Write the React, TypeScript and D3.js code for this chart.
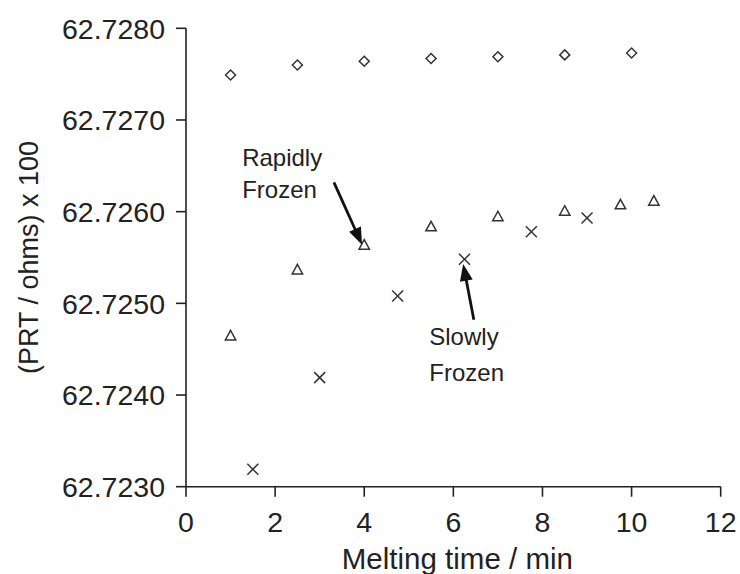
import React from "react";
import * as d3 from "d3";

const rapidX = [1, 2.5, 4, 5.5, 7, 8.5, 10];
const rapidDiamondY = [62.72749, 62.7276, 62.72764, 62.72767, 62.72769, 62.72771, 62.72773];

const triX = [1, 2.5, 4, 5.5, 7, 8.5, 9.75, 10.5];
const triY = [62.72465, 62.72537, 62.72564, 62.72584, 62.72595, 62.72601, 62.72608, 62.72612];

const crossX = [1.5, 3, 4.75, 6.25, 7.75, 9];
const crossY = [62.72319, 62.72419, 62.72508, 62.72548, 62.72578, 62.72593];

const xTicks = [0, 2, 4, 6, 8, 10, 12];
const yTicks = [62.723, 62.724, 62.725, 62.726, 62.727, 62.728];

const annotationLines = [
  { lines: ["Rapidly", "Frozen"], x: 1.26, y: [62.7265, 62.72615] },
  { lines: ["Slowly", "Frozen"], x: 5.46, y: [62.72455, 62.72415] },
];
const arrows = [
  { x1: 3.32, y1: 62.72632, x2: 3.95, y2: 62.72564 },
  { x1: 6.46, y1: 62.72482, x2: 6.22, y2: 62.72543 },
];

const W = 740;
const H = 574;
const M = { left: 186, top: 28.3, right: 19.3, bottom: 87.3 };
const FONT = "'Liberation Sans', Arial, Helvetica, sans-serif";
const INK = "#222";

export default function App() {
  const x = d3.scaleLinear().domain([0, 12]).range([M.left, W - M.right]);
  const y = d3.scaleLinear().domain([62.723, 62.728]).range([H - M.bottom, M.top]);
  const x0 = x(0), x1 = x(12), yb = y(62.723), yt = y(62.728);

  const diamonds = rapidX.map((v, i) => [x(v), y(rapidDiamondY[i])]);
  const tris = triX.map((v, i) => [x(v), y(triY[i])]);
  const crosses = crossX.map((v, i) => [x(v), y(crossY[i])]);

  const ds = 5;
  const diamondPath = (cx: number, cy: number) =>
    `M${cx},${cy - ds}L${cx + ds},${cy}L${cx},${cy + ds}L${cx - ds},${cy}Z`;
  const tw = 5.2, th = 9;
  const triPath = (cx: number, cy: number) =>
    `M${cx},${cy - th / 2 - 0.5}L${cx + tw},${cy + th / 2}L${cx - tw},${cy + th / 2}Z`;
  const cs = 5.5;

  const arrowHead = (a: { x1: number; y1: number; x2: number; y2: number }) => {
    const X1 = x(a.x1), Y1 = y(a.y1), X2 = x(a.x2), Y2 = y(a.y2);
    const ang = Math.atan2(Y2 - Y1, X2 - X1);
    const L = 17, Wd = 6.5;
    const bx = X2 - L * Math.cos(ang), by = Y2 - L * Math.sin(ang);
    const px = -Math.sin(ang) * Wd, py = Math.cos(ang) * Wd;
    return {
      line: [X1, Y1, bx + (X2 - bx) * 0.2, by + (Y2 - by) * 0.2],
      head: `M${X2},${Y2}L${bx + px},${by + py}L${bx - px},${by - py}Z`,
    };
  };

  return (
    <svg
      width={W}
      height={H}
      style={{ position: "absolute", left: 0, top: 0, background: "#fff" }}
      fontFamily={FONT}
    >
      <rect x={0} y={0} width={W} height={H} fill="#fff" />
      {/* axes */}
      <line x1={x0} y1={yb} x2={x1} y2={yb} stroke={INK} strokeWidth={1.6} />
      <line x1={x0} y1={yb} x2={x0} y2={yt} stroke={INK} strokeWidth={1.6} />
      {yTicks.map((t) => (
        <g key={"y" + t}>
          <line x1={x0 - 10} x2={x0} y1={y(t)} y2={y(t)} stroke={INK} strokeWidth={1.6} />
          <text x={x0 - 21} y={y(t)} dy="0.36em" textAnchor="end" fontSize={28.5} fill={INK}>
            {t.toFixed(4)}
          </text>
        </g>
      ))}
      {xTicks.map((t) => (
        <g key={"x" + t}>
          <line x1={x(t)} x2={x(t)} y1={yb} y2={yb + 10} stroke={INK} strokeWidth={1.6} />
          <text x={x(t)} y={532} textAnchor="middle" fontSize={28.5} fill={INK}>
            {t}
          </text>
        </g>
      ))}
      <text x={(x0 + x1) / 2 + 4} y={569} textAnchor="middle" fontSize={29.5} fill={INK}>
        Melting time / min
      </text>
      <text
        transform={`translate(38,${(yt + yb) / 2}) rotate(-90)`}
        textAnchor="middle"
        fontSize={27}
        fill={INK}
      >
        (PRT / ohms) x 100
      </text>

      {/* markers */}
      {diamonds.map(([cx, cy], i) => (
        <path key={"d" + i} d={diamondPath(cx, cy)} fill="none" stroke="#333" strokeWidth={1.5} />
      ))}
      {tris.map(([cx, cy], i) => (
        <path key={"t" + i} d={triPath(cx, cy)} fill="none" stroke="#333" strokeWidth={1.5} />
      ))}
      {crosses.map(([cx, cy], i) => (
        <g key={"c" + i} stroke="#333" strokeWidth={1.5}>
          <line x1={cx - cs} y1={cy - cs} x2={cx + cs} y2={cy + cs} />
          <line x1={cx - cs} y1={cy + cs} x2={cx + cs} y2={cy - cs} />
        </g>
      ))}

      {/* annotations */}
      {annotationLines.map((a, i) =>
        a.lines.map((s, j) => (
          <text key={"a" + i + j} x={x(a.x)} y={y(a.y[j])} fontSize={24} fill={INK}>
            {s}
          </text>
        ))
      )}
      {arrows.map((a, i) => {
        const h = arrowHead(a);
        return (
          <g key={"ar" + i}>
            <line x1={h.line[0]} y1={h.line[1]} x2={h.line[2]} y2={h.line[3]} stroke="#111" strokeWidth={2.8} />
            <path d={h.head} fill="#111" />
          </g>
        );
      })}
    </svg>
  );
}
